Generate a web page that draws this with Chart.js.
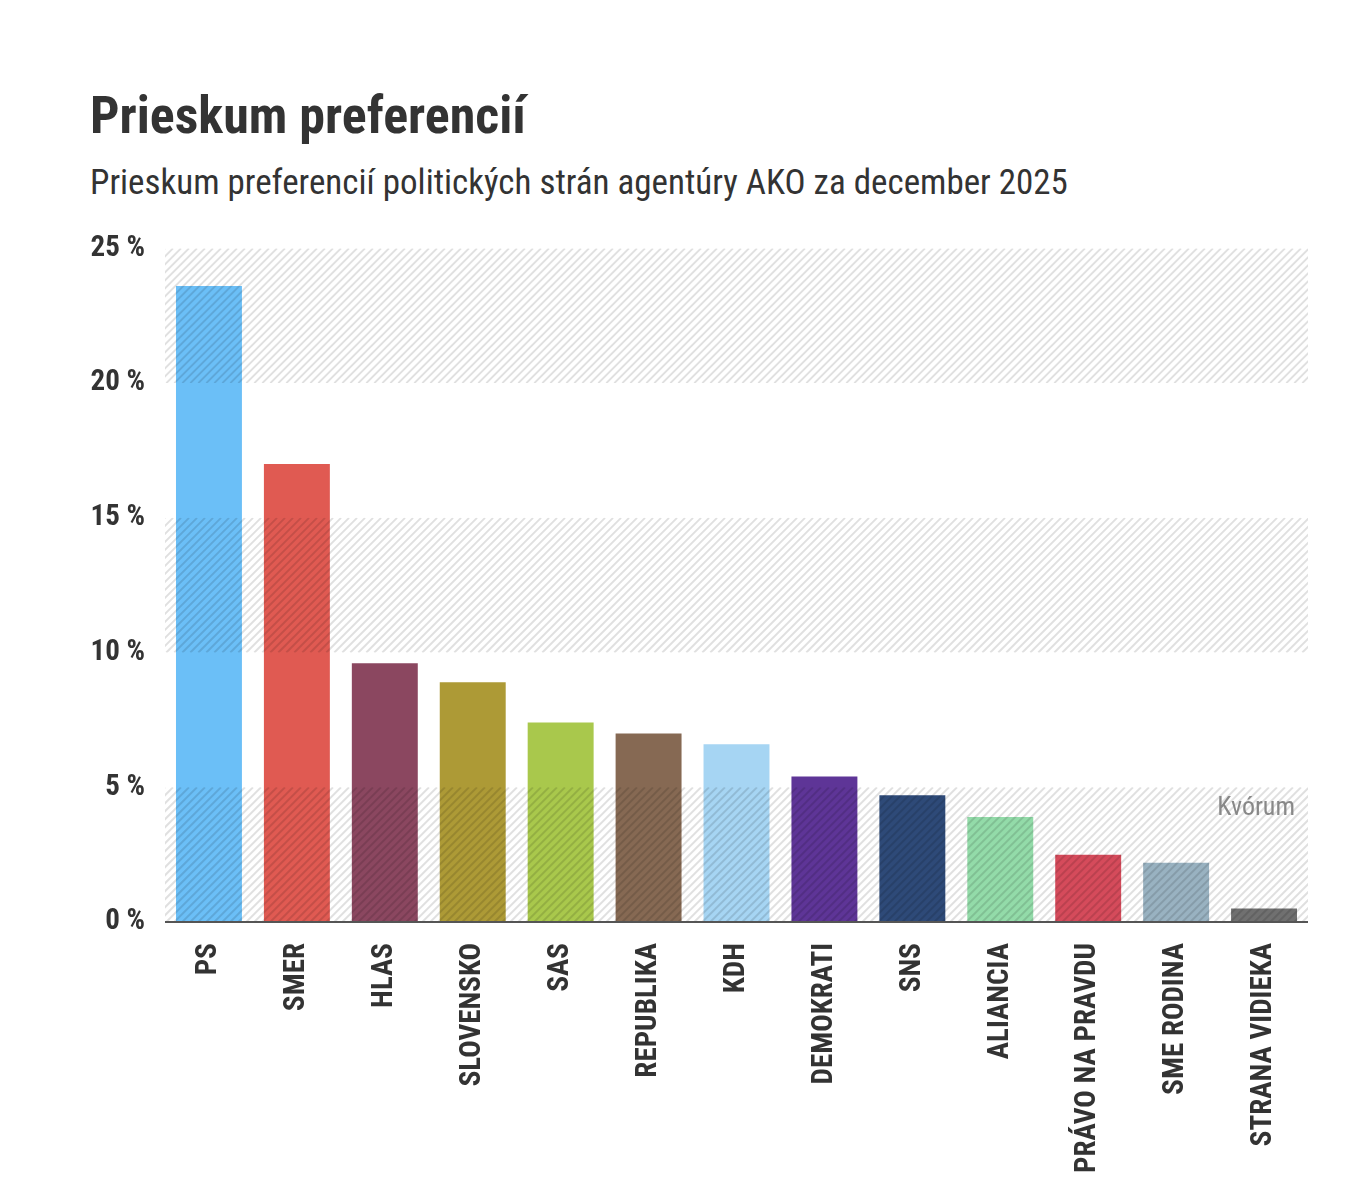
<!DOCTYPE html>
<html>
<head>
<meta charset="utf-8">
<script src="https://cdn.jsdelivr.net/npm/chart.js@4.4.1/dist/chart.umd.min.js"></script>
<style>
  body { margin: 0; background: #fff; width: 1354px; height: 1194px; position: relative; overflow: hidden;
         font-family: "Roboto Condensed", "Liberation Sans Narrow", "DejaVu Sans Condensed", Roboto, sans-serif; color: #333; }
  h1 { position: absolute; left: 90px; top: 85px; margin: 0; font-size: 52px; font-weight: 700; }
  .sub { position: absolute; left: 90px; top: 162px; margin: 0; font-size: 35px; font-weight: 400; }
  .wrap { position: absolute; left: 0; top: 219px; width: 1354px; height: 975px; }
</style>
</head>
<body>
<h1>Prieskum preferencií</h1>
<p class="sub">Prieskum preferencií politických strán agentúry AKO za december 2025</p>
<div class="wrap"><canvas id="barChart"></canvas></div>
<script>
  const FONT = '"Roboto Condensed", "Liberation Sans Narrow", "DejaVu Sans Condensed", Roboto, sans-serif';

  const parties = ['PS', 'SMER', 'HLAS', 'SLOVENSKO', 'SAS', 'REPUBLIKA', 'KDH', 'DEMOKRATI', 'SNS',
                   'ALIANCIA', 'PRÁVO NA PRAVDU', 'SME RODINA', 'STRANA VIDIEKA'];
  const results = [23.6, 17.0, 9.6, 8.9, 7.4, 7.0, 6.6, 5.4, 4.7, 3.9, 2.5, 2.2, 0.5];
  const partyColors = ['#6bbff7', '#e05a52', '#8b4760', '#ad9a36', '#a9c84c', '#866953', '#a6d5f3',
                       '#5e3597', '#2e4a78', '#93dba9', '#d54b5b', '#99b2c1', '#707070'];
  const yTicks = [0, 5, 10, 15, 20, 25];
  const hatchBands = [[0, 5], [10, 15], [20, 25]];
  const quorum = 5;

  // diagonal stripes drawn on top of the bars
  const hatch = {
    id: 'hatch',
    afterDatasetsDraw(chart) {
      const { ctx, chartArea, scales: { y } } = chart;
      ctx.save();
      hatchBands.forEach(([lo, hi]) => {
        const top = y.getPixelForValue(hi), bottom = y.getPixelForValue(lo);
        ctx.save();
        ctx.beginPath();
        ctx.rect(chartArea.left, top, chartArea.right - chartArea.left, bottom - top);
        ctx.clip();
        ctx.strokeStyle = 'rgba(0,0,0,0.12)';
        ctx.lineWidth = 2;
        ctx.beginPath();
        for (let x = chartArea.left - (bottom - top); x < chartArea.right + 10; x += 8) {
          ctx.moveTo(x, bottom);
          ctx.lineTo(x + (bottom - top), top);
        }
        ctx.stroke();
        ctx.restore();
      });
      ctx.font = '26px ' + FONT;
      ctx.fillStyle = '#888';
      ctx.textAlign = 'right';
      ctx.textBaseline = 'top';
      ctx.fillText('Kvórum', chartArea.right - 13, y.getPixelForValue(quorum) + 8);
      // baseline axis
      ctx.strokeStyle = '#555';
      ctx.lineWidth = 2;
      ctx.beginPath();
      ctx.moveTo(chartArea.left, chartArea.bottom);
      ctx.lineTo(chartArea.right, chartArea.bottom);
      ctx.stroke();
      ctx.restore();
    }
  };

  window.onload = function () {
    new Chart(document.getElementById('barChart'), {
      type: 'bar',
      data: {
        labels: parties,
        datasets: [{
          data: results,
          backgroundColor: partyColors,
          borderWidth: 0,
          barPercentage: 0.75,
          categoryPercentage: 1
        }]
      },
      options: {
        responsive: true,
        maintainAspectRatio: false,
        animation: false,
        layout: { padding: { top: 0, right: 46, left: 0, bottom: 0 } },
        plugins: { legend: { display: false }, tooltip: { enabled: false } },
        scales: {
          x: {
            grid: { display: false },
            border: { display: false },
            afterFit(scale) { scale.height = 272; },
            ticks: {
              autoSkip: false, maxRotation: 90, minRotation: 90, padding: 13,
              color: '#333', font: { family: FONT, size: 29, weight: 'bold' }
            }
          },
          y: {
            min: 0, max: 25,
            grid: { display: false },
            border: { display: false },
            afterFit(scale) { scale.width = 165; },
            afterBuildTicks(scale) { scale.ticks = yTicks.map(v => ({ value: v })); },
            ticks: {
              padding: 12, color: '#333',
              font: { family: FONT, size: 29, weight: 'bold' },
              callback: v => v + ' %'
            }
          }
        }
      },
      plugins: [hatch]
    });
  };
</script>
</body>
</html>
